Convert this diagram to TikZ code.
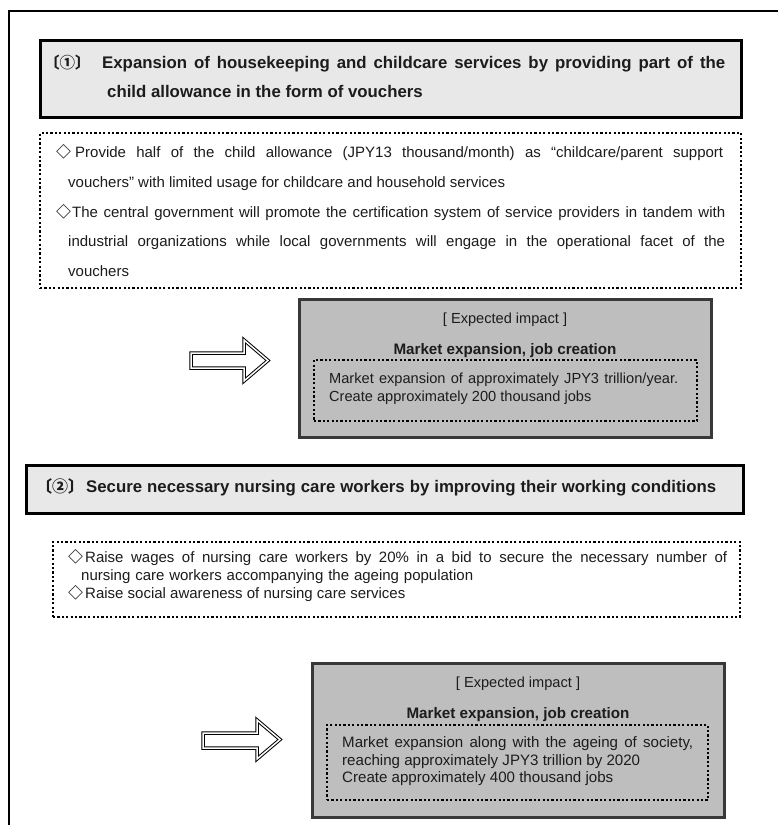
\documentclass[tikz,border=0pt]{standalone}
\usepackage{fontspec}
\setmainfont{Liberation Sans}
\newfontfamily\cjkfont{Noto Sans CJK JP}
\definecolor{ink}{HTML}{1C1C1C}
\definecolor{headfill}{HTML}{E8E8E8}
\definecolor{impactfill}{HTML}{BEBEBE}
\definecolor{impactedge}{HTML}{383838}
\newcommand\headsize{\fontsize{16.8pt}{20pt}\selectfont\bfseries}
\newcommand\bodysize{\fontsize{15pt}{18pt}\selectfont}
\newcommand\impsize{\fontsize{14.6pt}{17pt}\selectfont}
\newcommand\impsizeb{\fontsize{15.1pt}{17pt}\selectfont}
\newcommand\labsize{\fontsize{14.6pt}{17pt}\selectfont}
\newcommand\titsize{\fontsize{15.2pt}{18pt}\selectfont\bfseries}
\newcommand\dia{{\cjkfont\bfseries ◇}}
\begin{document}
\begin{tikzpicture}[x=1pt,y=-1pt,
  outerframe/.style={draw=black,line width=2pt},
  headbox/.style={draw=black,line width=3pt,fill=headfill,inner sep=0pt},
  dotbox/.style={draw=black,line width=2.3pt,dash pattern=on 2.2pt off 2.2pt,inner sep=0pt},
  impactbox/.style={draw=impactedge,line width=3pt,fill=impactfill,inner sep=0pt},
  txt/.style={anchor=base west,inner sep=0pt,text=ink},
  ctxt/.style={anchor=base,inner sep=0pt,text=ink},
  bigarrow/.style={draw=black,line width=1pt,double=white,double distance=1.5pt,fill=white,line join=miter}]
\useasboundingbox (0,0) rectangle (778,825);
\fill[white] (0,0) rectangle (778,825);

% outer frame (open to the right and bottom)
\draw[outerframe] (9,825) -- (9,11) -- (778,11);

% ---------- section 1 ----------
\node[headbox,minimum width=701pt,minimum height=77pt] (head1) at (390.5,78.5) {};
\node[txt,font=\fontsize{15.5pt}{18pt}\selectfont\cjkfont\bfseries] (num1) at (44,68.5) {〔①〕};
\node[txt,font=\headsize] (h1a) at (102,68.5)
  {\makebox[623pt][s]{Expansion of housekeeping and childcare services by providing part of the}};
\node[txt,font=\headsize] (h1b) at (107,97.5) {child allowance in the form of vouchers};

\node[dotbox,minimum width=701pt,minimum height=155pt] (list1) at (390.5,210.5) {};
\node[txt,font=\bodysize] (d1a) at (56,157.5) {\dia};
\node[txt,font=\bodysize] (l1a) at (75,157.5)
  {\makebox[648pt][s]{Provide half of the child allowance (JPY13 thousand/month) as “childcare/parent support}};
\node[txt,font=\bodysize] (l1b) at (68,187) {vouchers” with limited usage for childcare and household services};
\node[txt,font=\bodysize] (d1b) at (56,217) {\dia};
\node[txt,font=\bodysize] (l1c) at (72,217)
  {\makebox[653pt][s]{The central government will promote the certification system of service providers in tandem with}};
\node[txt,font=\bodysize] (l1d) at (68,246)
  {\makebox[657pt][s]{industrial organizations while local governments will engage in the operational facet of the}};
\node[txt,font=\bodysize] (l1e) at (68,276) {vouchers};

\draw[bigarrow] (191,353) -- (244,353) -- (244,340) -- (268,360.5) -- (244,381) -- (244,368) -- (191,368) -- cycle;

\node[impactbox,minimum width=412pt,minimum height=138pt] (imp1) at (505,368) {};
\node[ctxt,font=\labsize] (e1) at (505,323) {{[} Expected impact {]}};
\node[ctxt,font=\titsize] (m1) at (505,354.5) {Market expansion, job creation};
\node[dotbox,minimum width=383pt,minimum height=61pt] (in1) at (505.5,390.5) {};
\node[txt,font=\impsize] (r1a) at (329,383.5)
  {\makebox[349pt][s]{Market expansion of approximately JPY3 trillion/year.}};
\node[txt,font=\impsize] (r1b) at (329,401.5) {Create approximately 200 thousand jobs};

% ---------- section 2 ----------
\node[headbox,minimum width=717pt,minimum height=48pt] (head2) at (384.5,489) {};
\node[txt,font=\fontsize{16pt}{19pt}\selectfont\cjkfont\bfseries] (num2) at (36,492.5) {〔②〕};
\node[txt,font=\headsize] (h2a) at (86,492.5)
  {\makebox[630pt][s]{Secure necessary nursing care workers by improving their working conditions}};

\node[dotbox,minimum width=687pt,minimum height=75pt] (list2) at (396.5,579.5) {};
\node[txt,font=\bodysize] (d2a) at (68,562.5) {\dia};
\node[txt,font=\bodysize] (l2a) at (85,562.5)
  {\makebox[642pt][s]{Raise wages of nursing care workers by 20\% in a bid to secure the necessary number of}};
\node[txt,font=\bodysize] (l2b) at (81,580.5)
  {\makebox[392pt][s]{nursing care workers accompanying the ageing population}};
\node[txt,font=\bodysize] (d2b) at (68,598.5) {\dia};
\node[txt,font=\bodysize] (l2c) at (85,598.5) {Raise social awareness of nursing care services};

\draw[bigarrow] (203,733) -- (257,733) -- (257,720) -- (280,739.5) -- (257,759) -- (257,748) -- (203,748) -- cycle;

\node[impactbox,minimum width=412pt,minimum height=154pt] (imp2) at (518,740) {};
\node[ctxt,font=\labsize] (e2) at (518,687) {{[} Expected impact {]}};
\node[ctxt,font=\titsize] (m2) at (518,718.5) {Market expansion, job creation};
\node[dotbox,minimum width=381pt,minimum height=75pt] (in2) at (517.5,762.5) {};
\node[txt,font=\impsizeb] (r2a) at (342,747.5)
  {\makebox[351pt][s]{Market expansion along with the ageing of society,}};
\node[txt,font=\impsizeb] (r2b) at (342,765.5) {reaching approximately JPY3 trillion by 2020};
\node[txt,font=\impsizeb] (r2c) at (342,782.5) {Create approximately 400 thousand jobs};
\end{tikzpicture}
\end{document}
